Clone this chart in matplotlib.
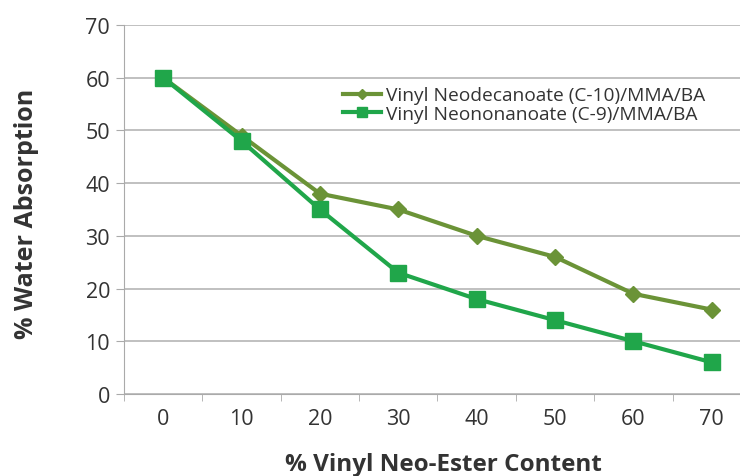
import numpy as np
import matplotlib.pyplot as plt

plt.rcParams['font.family'] = ['Open Sans', 'DejaVu Sans']

# data
categories = ['0', '10', '20', '30', '40', '50', '60', '70']
c10_values = [60, 49, 38, 35, 30, 26, 19, 16]
c9_values = [60, 48, 35, 23, 18, 14, 10, 6]
c10_label = 'Vinyl Neodecanoate (C-10)/MMA/BA'
c9_label = 'Vinyl Neononanoate (C-9)/MMA/BA'

fig = plt.figure(figsize=(7.4, 4.77), dpi=100)
ax = fig.add_axes([0.1676, 0.172, 0.8324, 0.7735])

x = np.arange(len(categories))
ax.plot(x, c10_values, color='#6b9337', lw=3, marker='D', ms=8,
        label=c10_label, zorder=3)
ax.plot(x, c9_values, color='#20a64a', lw=3, marker='s', ms=11,
        label=c9_label, zorder=4)

ax.set_xlim(-0.5, 7.36)
ax.set_ylim(0, 70)
ax.set_yticks(range(0, 71, 10))
ax.set_xticks(x)
ax.set_xticklabels(categories)
ax.set_xticks(np.arange(-0.5, 7.5, 1), minor=True)
ax.tick_params(axis='x', which='major', length=0, pad=10,
               labelsize=15.5, labelcolor='#333333')
ax.tick_params(axis='x', which='minor', length=5, color='#aaaaaa')
ax.tick_params(axis='y', length=6, color='#aaaaaa', labelsize=15.5,
               labelcolor='#333333', pad=4)

ax.grid(axis='y', color='#b5b5b5', lw=1.2)
ax.set_axisbelow(True)
for s in ['top', 'right']:
    ax.spines[s].set_visible(False)
ax.spines['left'].set_color('#aaaaaa')
ax.spines['bottom'].set_color('#aaaaaa')

fig.text(443 / 740, 1 - 465 / 477, '% Vinyl Neo-Ester Content', fontsize=17.5,
         fontweight='bold', color='#333333', ha='center', va='center')
fig.text(27 / 740, 1 - 214 / 477, '% Water Absorption', fontsize=18,
         fontweight='bold', color='#333333', ha='center', va='center',
         rotation=90)

leg = ax.legend(loc='upper left', bbox_to_anchor=(0.34, 0.86), frameon=False,
                fontsize=13.8, handlelength=2.0, handletextpad=0.25,
                borderpad=0, labelspacing=0.05, markerscale=0.6)
for t in leg.get_texts():
    t.set_color('#333333')

fig.savefig('out.png', dpi=100, facecolor='white')
